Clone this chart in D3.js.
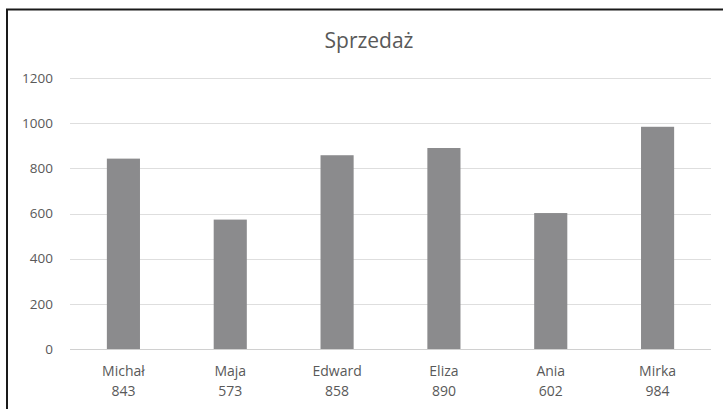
<!DOCTYPE html>
<html>
<head>
<meta charset="utf-8">
<script src="https://cdn.jsdelivr.net/npm/d3@7"></script>
<style>
  body { margin: 0; background: #fff; }
  svg { display: block; }
  text { font-family: "Open Sans", Roboto, sans-serif; fill: #595959; }
</style>
</head>
<body>
<svg id="chart" width="723" height="409"></svg>
<script>
const names = ["Michał", "Maja", "Edward", "Eliza", "Ania", "Mirka"];
const sales = [843, 573, 858, 890, 602, 984];
const yTicks = [0, 200, 400, 600, 800, 1000, 1200];
const title = "Sprzedaż";

const width = 723, height = 409;
const svg = d3.select("#chart");

// frame of the chart area (right and bottom edges are cut off)
svg.append("rect")
    .attr("x", 7).attr("y", 9.5)
    .attr("width", 730).attr("height", 420)
    .attr("fill", "#fff")
    .attr("stroke", "#1a1a1a")
    .attr("stroke-width", 2);

const plotLeft = 70, plotRight = 711, plotTop = 78, plotBottom = 349;

const x = d3.scaleBand()
    .domain(names)
    .range([plotLeft, plotRight])
    .paddingInner(0.69)
    .paddingOuter(0.345);

const y = d3.scaleLinear()
    .domain([0, 1200])
    .range([plotBottom, plotTop]);

// gridlines
svg.append("g")
    .selectAll("line")
    .data(yTicks)
    .enter()
    .append("line")
    .attr("x1", plotLeft).attr("x2", plotRight)
    .attr("y1", d => Math.round(y(d)) + 0.5)
    .attr("y2", d => Math.round(y(d)) + 0.5)
    .attr("stroke", d => d == 0 ? "#d0d0d0" : "#dedede")
    .attr("stroke-width", 1);

// y labels
svg.append("g")
    .selectAll("text")
    .data(yTicks)
    .enter()
    .append("text")
    .attr("x", 53)
    .attr("y", d => y(d))
    .attr("dy", "0.35em")
    .attr("text-anchor", "end")
    .style("font-size", "13.5px")
    .text(d => d);

// bars
svg.append("g")
    .selectAll("rect")
    .data(sales)
    .enter()
    .append("rect")
    .attr("x", (d, i) => x(names[i]))
    .attr("width", x.bandwidth())
    .attr("y", d => y(d))
    .attr("height", d => y(0) - y(d))
    .attr("fill", "#8b8b8d");

// category labels: name + value
const lab = svg.append("g")
    .selectAll("g")
    .data(names)
    .enter()
    .append("g")
    .attr("transform", d => `translate(${x(d) + x.bandwidth() / 2},0)`);

lab.append("text")
    .attr("y", 376)
    .attr("text-anchor", "middle")
    .style("font-size", "14px")
    .text(d => d);

lab.append("text")
    .attr("y", 396)
    .attr("text-anchor", "middle")
    .style("font-size", "14px")
    .text((d, i) => sales[i]);

// title
svg.append("text")
    .attr("x", 369)
    .attr("y", 48)
    .attr("text-anchor", "middle")
    .style("font-size", "21px")
    .text(title);
</script>
</body>
</html>
